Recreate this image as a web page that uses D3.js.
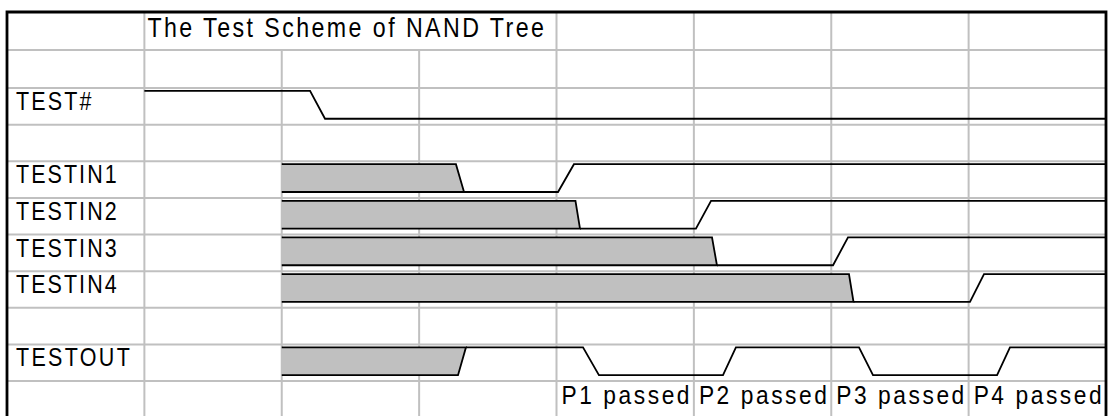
<!DOCTYPE html>
<html>
<head>
<meta charset="utf-8">
<script src="https://cdn.jsdelivr.net/npm/d3@7"></script>
<style>
  html, body { margin: 0; padding: 0; background: #fff; }
  svg { display: block; }
  text { font-family: 'Liberation Sans', Arial, sans-serif; fill: #000; }
</style>
</head>
<body>
<svg id="chart"></svg>
<script>
// ═══════════════════════════════════════════════
// NAND tree test scheme — sheet grid + waveforms
// ═══════════════════════════════════════════════

const TITLE = 'The Test Scheme of NAND Tree';
const ROW_LABELS = ['', '', 'TEST#', '', 'TESTIN1', 'TESTIN2', 'TESTIN3', 'TESTIN4', '', 'TESTOUT', ''];
const PASS_LABELS = ['P1 passed', 'P2 passed', 'P3 passed', 'P4 passed'];
const PASS_COLS = [4, 5, 6, 7];

// waveforms: [time in grid columns, level] (1 = high, 0 = low)
const TEST_WAVE    = [[1, 1], [2.206, 1], [2.315, 0], [8, 0]];
const TESTIN1_WAVE = [[3.327, 0], [4.011, 0], [4.127, 1], [8, 1]];
const TESTIN2_WAVE = [[4.171, 0], [5.015, 0], [5.125, 1], [8, 1]];
const TESTIN3_WAVE = [[5.168, 0], [6.013, 0], [6.122, 1], [8, 1]];
const TESTIN4_WAVE = [[6.162, 0], [7.010, 0], [7.112, 1], [8, 1]];
const TESTOUT_WAVE = [[3.341, 1], [4.193, 1], [4.309, 0], [5.212, 0], [5.306, 1],
                      [6.202, 1], [6.304, 0], [7.207, 0], [7.301, 1], [8, 1]];

// shaded "don't care" blocks before each input settles
const BLOCK_SIGNALS = ['TESTIN1', 'TESTIN2', 'TESTIN3', 'TESTIN4', 'TESTOUT'];
const BLOCK_START = 2;
const BLOCK_TOP_END = [3.268, 4.138, 5.132, 6.129, 3.341];
const BLOCK_BOTTOM_END = [3.327, 4.171, 5.168, 6.162, 3.283];

const WAVES = [
  ['TEST#', TEST_WAVE],
  ['TESTIN1', TESTIN1_WAVE],
  ['TESTIN2', TESTIN2_WAVE],
  ['TESTIN3', TESTIN3_WAVE],
  ['TESTIN4', TESTIN4_WAVE],
  ['TESTOUT', TESTOUT_WAVE],
];

const W = 1112, H = 416;
const NCOLS = 8, NROWS = ROW_LABELS.length;
const SQUEEZE = 0.86;   // glyphs in the sheet look condensed

const svg = d3.select('#chart').attr('width', W).attr('height', H);

const x = d3.scaleLinear().domain([0, NCOLS]).range([7, 1106]);
// first two rows are a bit taller than the rest
const y = d3.scaleLinear().domain([0, 2, 10]).range([12, 88, 381]);
const yLevel = (row, lvl) => y(row + (lvl ? 0.08 : 0.84));

svg.append('rect').attr('width', W).attr('height', H).attr('fill', '#fff');

// Grid
const grid = svg.append('g').attr('stroke', '#c0c0c0').attr('stroke-width', 2);

d3.range(1, NROWS).forEach(r => {
  grid.append('line')
    .attr('x1', x(0)).attr('x2', x(NCOLS))
    .attr('y1', y(r)).attr('y2', y(r));
});

d3.range(1, NCOLS).forEach(c => {
  // title cell is merged over columns 1..3
  const top = (c === 2 || c === 3) ? y(1) : y(0);
  grid.append('line')
    .attr('x1', x(c)).attr('x2', x(c))
    .attr('y1', top).attr('y2', H);
});

// Shaded blocks
const line = d3.line();
BLOCK_SIGNALS.forEach((name, i) => {
  const row = ROW_LABELS.indexOf(name);
  const pts = [
    [x(BLOCK_START), yLevel(row, 0)],
    [x(BLOCK_BOTTOM_END[i]), yLevel(row, 0)],
    [x(BLOCK_TOP_END[i]), yLevel(row, 1)],
    [x(BLOCK_START), yLevel(row, 1)],
  ];
  svg.append('path')
    .attr('d', line(pts))
    .attr('fill', '#c0c0c0')
    .attr('stroke', '#000')
    .attr('stroke-width', 1.8);
});

// Waveforms
WAVES.forEach(([name, wave]) => {
  const row = ROW_LABELS.indexOf(name);
  svg.append('path')
    .attr('d', line(wave.map(([t, lvl]) => [x(t), yLevel(row, lvl)])))
    .attr('fill', 'none')
    .attr('stroke', '#000')
    .attr('stroke-width', 1.8);
});

// Outer sheet border (top, left, right)
svg.append('path')
  .attr('d', line([[x(0), H], [x(0), y(0)], [x(NCOLS), y(0)], [x(NCOLS), H]]))
  .attr('fill', 'none')
  .attr('stroke', '#000')
  .attr('stroke-width', 2.8);

// Text: squeezed glyphs, spaced back out to the normal width (+ extra tracking)
function addText(px, py, str, size, track) {
  const t = svg.append('text')
    .attr('transform', `translate(${px},${py}) scale(${SQUEEZE},1)`)
    .style('font-size', size + 'px')
    .text(str);
  const w0 = t.node().getComputedTextLength();
  const n = str.length;
  const target = w0 + track * n;
  t.style('letter-spacing', ((target / SQUEEZE - w0) / n) + 'px');
  return t;
}

addText(x(1) + 3, y(0) + 25, TITLE, 27, 0.5);

ROW_LABELS.forEach((lab, r) => {
  if (lab) addText(x(0) + 9, y(r) + 22, lab, 25, 0);
});

PASS_LABELS.forEach((lab, i) => {
  addText(x(PASS_COLS[i]) + 5, y(NROWS - 1) + 23, lab, 26.5, 0.6);
});
</script>
</body>
</html>
